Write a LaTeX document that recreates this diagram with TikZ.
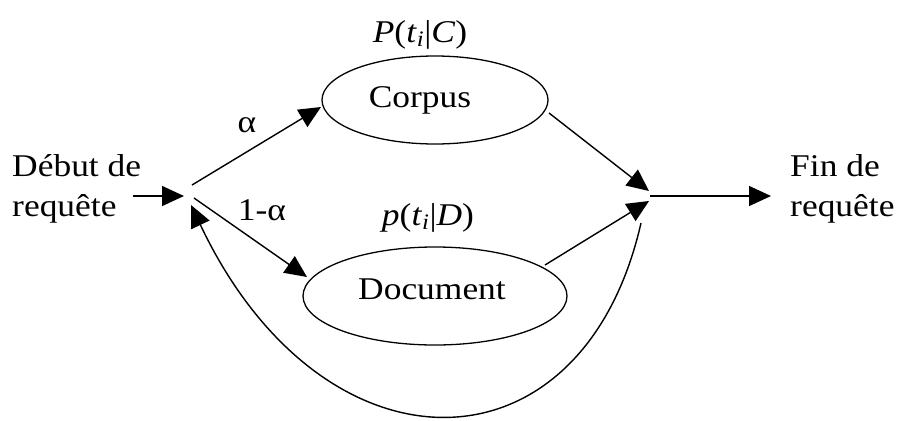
\documentclass[tikz,border=0pt]{standalone}
\usepackage{fontspec}
\setmainfont{Liberation Serif}[FakeStretch=1.12]
\usetikzlibrary{arrows.meta,shapes.geometric}
\begin{document}
\begin{tikzpicture}[x=0.03cm,y=-0.03cm,
  lbl/.style={font=\fontsize{27}{34}\selectfont, inner sep=0pt},
  oval/.style={draw, ellipse, line width=1.1pt, inner sep=0pt},
  conn/.style={line width=1.2pt, -{Triangle[length=0.66cm,width=0.6cm]}}]
\useasboundingbox (0,0) rectangle (902,420);
% ovals
\node[oval, minimum width=6.78cm, minimum height=2.64cm] (corpus) at (435,100) {};
\node[oval, minimum width=7.92cm, minimum height=2.94cm] (doc) at (435,296) {};
% texts
\node[lbl, anchor=base west] (debut1) at (12,176) {Début de};
\node[lbl, anchor=base west] (debut2) at (12,216) {requête};
\node[lbl, anchor=base west] (fin1) at (790,176) {Fin de};
\node[lbl, anchor=base west] (fin2) at (790,216) {requête};
\node[lbl, anchor=base] (alpha) at (247,132) {α};
\node[lbl, anchor=base] (unalpha) at (262,220) {1-α};
\node[lbl, anchor=base] (pc) at (420,42) {\textit{P}(\textit{t}\textsubscript{\textit{i}}|\textit{C})};
\node[lbl, anchor=base] (pd) at (428,225) {\textit{p}(\textit{t}\textsubscript{\textit{i}}|\textit{D})};
\node[lbl, anchor=base] (corpustxt) at (420,107) {Corpus};
\node[lbl, anchor=base] (doctxt) at (432,299) {Document};
% junction points
\coordinate (in0) at (133,196);
\coordinate (j1) at (184,196);
\coordinate (j1a) at (192,185);
\coordinate (j1b) at (194,198);
\coordinate (ctip) at (321,107);
\coordinate (dtip) at (307,277);
\coordinate (cout) at (549,113);
\coordinate (dout) at (545,265);
\coordinate (j2a) at (649,191);
\coordinate (j2b) at (649,201);
\coordinate (j2) at (650,196);
\coordinate (outtip) at (771,196);
\coordinate (lstart) at (641,223);
\coordinate (ltip) at (191,205);
% connectors
\draw[conn] (in0) -- (j1);
\draw[conn] (j1a) -- (ctip);
\draw[conn] (j1b) -- (dtip);
\draw[conn] (cout) -- (j2a);
\draw[conn] (dout) -- (j2b);
\draw[conn] (j2) -- (outtip);
\draw[conn] (lstart) .. controls (582,482) and (322,482) .. (ltip);
\end{tikzpicture}
\end{document}
